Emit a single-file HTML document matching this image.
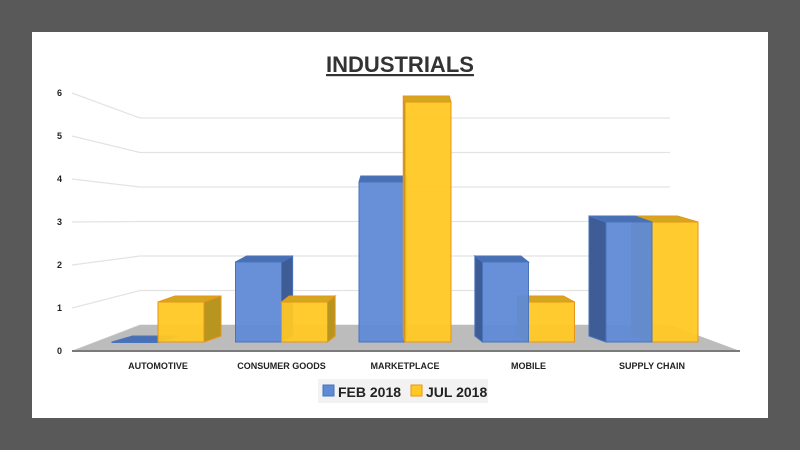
<!DOCTYPE html>
<html><head><meta charset="utf-8"><style>
body{margin:0;width:800px;height:450px;background:#595959;font-family:"Liberation Sans",sans-serif;overflow:hidden}
#panel{position:absolute;left:32px;top:32px;width:736px;height:386px;background:#fff}
</style></head><body>
<div id="panel"></div>
<svg id="chart" width="800" height="450" style="position:absolute;left:0;top:0">
<text x="400" y="72" text-anchor="middle" font-size="22" font-weight="bold" fill="#333" text-decoration="underline">INDUSTRIALS</text>
</svg>
<script>
const categories=["AUTOMOTIVE","CONSUMER GOODS","MARKETPLACE","MOBILE","SUPPLY CHAIN"];
const feb2018=[0,2,4,2,3];
const jul2018=[1,1,6,1,3];
const ticks=[0,1,2,3,4,5,6];
const NS="http://www.w3.org/2000/svg";
const svg=document.getElementById('chart');
function el(t,a,p){const e=document.createElementNS(NS,t);for(const k in a)e.setAttribute(k,a[k]);(p||svg).appendChild(e);return e;}
const yFrontTick=v=>351-v*43;
const yBack=v=>325-v*34.5;
const yBar=v=>342-v*40;
const xCenter=i=>158+i*123.5;
ticks.forEach(v=>{
 const g=el('polyline',{points:`72,${yFrontTick(v)} 140,${yBack(v)} 670,${yBack(v)}`,fill:'none',stroke:'#e3e3e3','stroke-width':1.2});
 
 
 const t=el('text',{x:62,y:yFrontTick(v)+3,'font-size':9,'font-weight':'bold','text-anchor':'end',fill:'#222'});
 t.textContent=v;
 
 
});
const floor=el('polygon',{points:'72,351 740,351 670,325 140,325',fill:'#bcbcbc'});


el('line',{x1:72,y1:351,x2:740,y2:351,stroke:'#7a7a7a','stroke-width':2});
function bar(x,v,front,side,top,edge,name){
 const w=46,yb=342,yt=yBar(v),c=x+w/2;
 const dx=-(c-405)*0.076,dy=-6;
 const g=el('g',{});
 
 
 if(dx>0) el('polygon',{points:`${x+w},${yt} ${x+w+dx},${yt+dy} ${x+w+dx},${yb+dy} ${x+w},${yb}`,fill:side,stroke:edge,'stroke-width':1},g);
 else el('polygon',{points:`${x},${yt} ${x+dx},${yt+dy} ${x+dx},${yb+dy} ${x},${yb}`,fill:side,stroke:edge,'stroke-width':1},g);
 el('polygon',{points:`${x},${yt} ${x+dx},${yt+dy} ${x+w+dx},${yt+dy} ${x+w},${yt}`,fill:top,stroke:edge,'stroke-width':1},g);
 el('rect',{x:x,y:yt,width:w,height:Math.max(yb-yt,0.5),fill:front,stroke:edge,'stroke-width':1,'fill-opacity':0.95},g);
}
categories.forEach((c,i)=>{
 const cx=xCenter(i);
 const drawFeb=()=>bar(cx-46,feb2018[i],'#5f8ad6','#3e5d96','#4a70b4','#4a73bd','bar-feb-'+i);
 const drawJul=()=>bar(cx,jul2018[i],'#ffc823','#b8951f','#d4a81e','#e8951a','bar-jul-'+i);
 if(cx>405){drawJul();drawFeb();}else{drawFeb();drawJul();}
 const t=el('text',{x:cx,y:369,'font-size':9,'font-weight':'bold','text-anchor':'middle',fill:'#222'});
 t.textContent=c;
 
 
});
const lg=el('g',{});


el('rect',{x:318,y:379,width:170,height:24,fill:'#f2f2f2'},lg);
el('rect',{x:323,y:385,width:11,height:11,fill:'#5f8ad6',stroke:'#4a73bd'},lg);
const l1=el('text',{x:338,y:397,'font-size':14,'font-weight':'bold',fill:'#222'},lg);l1.textContent='FEB 2018';


el('rect',{x:411,y:385,width:11,height:11,fill:'#ffc823',stroke:'#e8951a'},lg);
const l2=el('text',{x:426,y:397,'font-size':14,'font-weight':'bold',fill:'#222'},lg);l2.textContent='JUL 2018';


</script>
</body></html>
